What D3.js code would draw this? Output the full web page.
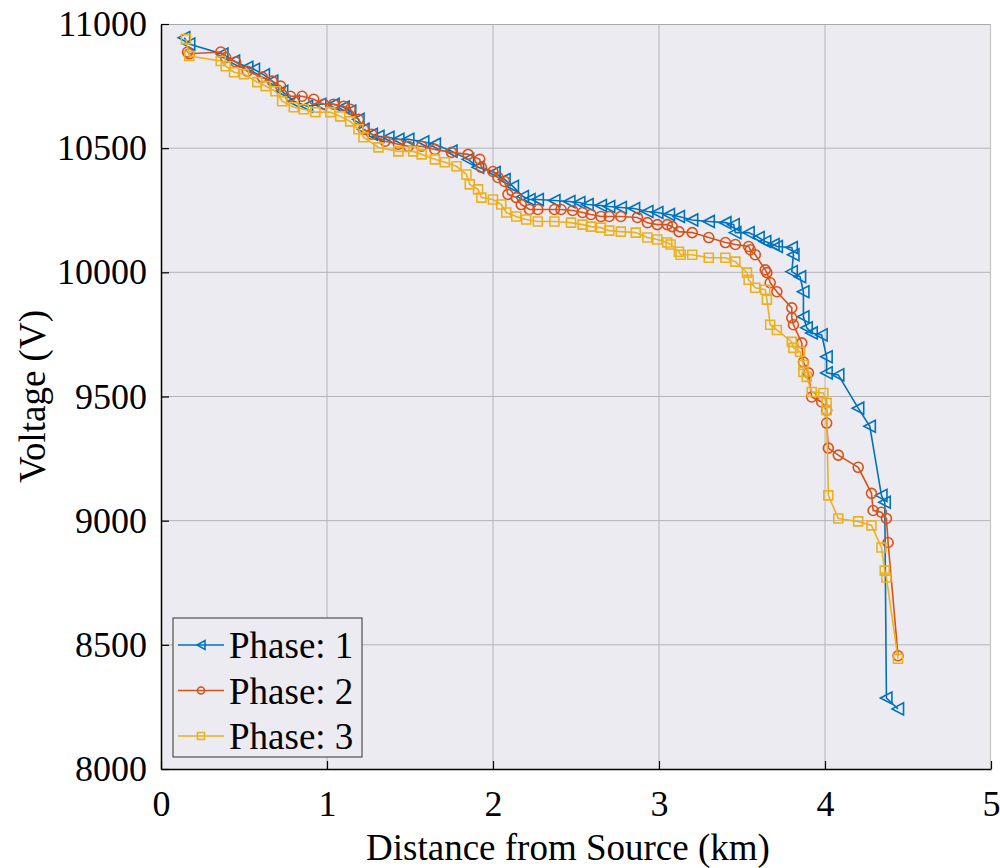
<!DOCTYPE html>
<html lang="en">
<head>
<meta charset="UTF-8">
<title>Voltage profile</title>
<style>
  body { margin: 0; background: #fff; }
  svg { display: block; font-family: "Liberation Serif", "Times New Roman", serif; }
  .grid line { stroke: #b4b4b8; stroke-width: 1; }
  .line { fill: none; stroke-width: 1.6px; }
  .marker { fill: none; stroke-width: 1.6px; }
</style>
</head>
<body>
<svg width="1000" height="868"></svg>
<script src="https://d3js.org/d3.v7.min.js"></script>
<script>
// distance from source (km) and voltage (V)
var phase1Dist = [0.14,0.17,0.37,0.44,0.52,0.56,0.62,0.67,0.73,0.80,0.88,0.96,1.04,1.10,1.14,1.19,1.22,1.27,1.31,1.37,1.43,1.49,1.58,1.65,1.75,1.85,1.91,2.01,2.07,2.12,2.18,2.22,2.27,2.37,2.46,2.52,2.57,2.65,2.70,2.77,2.85,2.93,2.99,3.06,3.12,3.20,3.30,3.40,3.45,3.46,3.54,3.60,3.64,3.69,3.71,3.80,3.81,3.80,3.85,3.87,3.87,3.89,3.92,3.98,4.01,4.01,4.08,4.20,4.27,4.34,4.36,4.37,4.44];
var phase1Volt = [10945,10919,10879,10851,10826,10818,10795,10770,10729,10689,10669,10677,10677,10665,10649,10616,10576,10556,10548,10544,10536,10536,10526,10516,10488,10455,10423,10402,10374,10346,10305,10293,10293,10289,10285,10281,10273,10269,10265,10261,10257,10245,10241,10233,10225,10211,10205,10200,10192,10160,10160,10140,10124,10112,10104,10100,10071,10003,9982,9922,9821,9777,9756,9748,9660,9595,9587,9453,9380,9102,9074,8286,8242];

var phase2Dist = [0.16,0.17,0.36,0.39,0.45,0.52,0.61,0.67,0.72,0.78,0.85,0.92,0.98,1.04,1.10,1.14,1.19,1.22,1.27,1.35,1.43,1.49,1.57,1.65,1.75,1.85,1.92,1.93,2.00,2.03,2.07,2.09,2.14,2.17,2.22,2.27,2.37,2.41,2.48,2.54,2.59,2.65,2.70,2.77,2.87,2.93,2.99,3.05,3.08,3.12,3.20,3.30,3.40,3.46,3.54,3.55,3.58,3.64,3.65,3.67,3.71,3.80,3.80,3.81,3.86,3.87,3.90,3.92,3.98,4.01,4.01,4.02,4.08,4.20,4.28,4.29,4.34,4.37,4.38,4.44];
var phase2Volt = [10887,10880,10887,10865,10847,10810,10786,10770,10750,10709,10709,10697,10677,10677,10669,10657,10616,10576,10556,10528,10516,10508,10508,10495,10483,10475,10455,10423,10406,10382,10366,10314,10301,10273,10253,10253,10253,10253,10249,10241,10233,10225,10225,10225,10221,10200,10192,10192,10184,10164,10160,10140,10120,10112,10104,10091,10071,10010,9999,9958,9922,9857,9817,9789,9716,9639,9595,9498,9478,9445,9393,9292,9264,9215,9110,9041,9034,9009,8912,8456];

var phase3Dist = [0.15,0.17,0.36,0.39,0.44,0.50,0.58,0.63,0.69,0.73,0.80,0.86,0.93,1.02,1.08,1.14,1.19,1.22,1.31,1.43,1.52,1.57,1.65,1.71,1.78,1.84,1.86,1.91,1.93,2.00,2.05,2.08,2.14,2.20,2.27,2.37,2.47,2.54,2.59,2.65,2.70,2.77,2.86,2.93,2.99,3.05,3.07,3.12,3.13,3.20,3.30,3.40,3.46,3.53,3.54,3.58,3.64,3.65,3.67,3.71,3.80,3.81,3.85,3.87,3.87,3.89,3.92,3.99,4.01,4.01,4.02,4.08,4.20,4.28,4.34,4.36,4.37,4.44];
var phase3Volt = [10939,10871,10851,10830,10806,10798,10766,10750,10729,10689,10665,10657,10645,10645,10628,10608,10576,10544,10503,10487,10487,10475,10455,10443,10427,10394,10354,10334,10301,10293,10273,10241,10225,10213,10205,10205,10200,10192,10184,10180,10168,10164,10160,10140,10132,10120,10112,10083,10071,10071,10059,10059,10043,9999,9970,9938,9930,9890,9789,9768,9720,9696,9680,9627,9599,9579,9518,9514,9474,9445,9102,9009,8997,8981,8892,8799,8771,8444];

var seriesNames = ["Phase: 1", "Phase: 2", "Phase: 3"];
var seriesColors = ["#0072BD", "#D95319", "#EDB120"];
var seriesMarkers = ["triangle", "circle", "square"];
var xTicks = [0, 1, 2, 3, 4, 5];
var yTicks = [8000, 8500, 9000, 9500, 10000, 10500, 11000];

var svg = d3.select("svg"),
    margin = {top: 24, right: 9, bottom: 99, left: 161},
    width = 1000 - margin.left - margin.right,
    height = 868 - margin.top - margin.bottom,
    g = svg.append("g").attr("transform", "translate(" + margin.left + "," + margin.top + ")");

var x = d3.scaleLinear().domain([0, 5]).range([0, width]),
    y = d3.scaleLinear().domain([8000, 11000]).range([height, 0]);

var series = [
  {name: seriesNames[0], color: seriesColors[0], marker: seriesMarkers[0], dist: phase1Dist, volt: phase1Volt},
  {name: seriesNames[1], color: seriesColors[1], marker: seriesMarkers[1], dist: phase2Dist, volt: phase2Volt},
  {name: seriesNames[2], color: seriesColors[2], marker: seriesMarkers[2], dist: phase3Dist, volt: phase3Volt}
];
series.forEach(function(s) {
  s.data = s.dist.map(function(d, i) { return {d: d, v: s.volt[i]}; });
});

// background
g.append("rect").attr("width", width).attr("height", height).attr("fill", "#ebebf1");

// grid
g.append("g").attr("class", "grid")
  .selectAll("line").data(xTicks.slice(1, -1)).enter().append("line")
  .attr("x1", function(d) { return x(d); }).attr("x2", function(d) { return x(d); })
  .attr("y1", 0).attr("y2", height);
g.append("g").attr("class", "grid")
  .selectAll("line").data(yTicks.slice(1, -1)).enter().append("line")
  .attr("y1", function(d) { return y(d); }).attr("y2", function(d) { return y(d); })
  .attr("x1", 0).attr("x2", width);

// top / right box edges
g.append("line").attr("x1", 0).attr("x2", width).attr("y1", 0.5).attr("y2", 0.5).attr("stroke", "#a8a8a8").attr("stroke-width", 1.2);
g.append("line").attr("x1", width - 0.5).attr("x2", width - 0.5).attr("y1", 0).attr("y2", height).attr("stroke", "#c4c4c4").attr("stroke-width", 1.2);

// axes
var xAxis = g.append("g")
  .attr("transform", "translate(0," + height + ")")
  .call(d3.axisBottom(x).tickValues(xTicks).tickFormat(d3.format("d")).tickSizeInner(-8).tickSizeOuter(0).tickPadding(21));
var yAxis = g.append("g")
  .call(d3.axisLeft(y).tickValues(yTicks).tickFormat(d3.format("d")).tickSizeInner(-8).tickSizeOuter(0).tickPadding(14));
[xAxis, yAxis].forEach(function(a) {
  a.select(".domain").attr("stroke", "#000").attr("stroke-width", 1.5);
  a.selectAll(".tick line").attr("stroke", "#000").attr("stroke-width", 1.2);
  a.selectAll(".tick text").attr("fill", "#000").attr("font-size", "36px")
    .attr("font-family", "Liberation Serif, Times New Roman, serif");
});

// axis labels
svg.append("text")
  .attr("x", margin.left + width / 2 - 8).attr("y", 860)
  .attr("text-anchor", "middle").attr("font-size", "37px").attr("fill", "#000")
  .text("Distance from Source (km)");
svg.append("text")
  .attr("transform", "translate(45," + (margin.top + height / 2) + ") rotate(-90)")
  .attr("text-anchor", "middle").attr("font-size", "37px").attr("fill", "#000")
  .text("Voltage (V)");

function markerPath(type) {
  if (type === "triangle") return "M-6,0L5.5,-6L5.5,6Z";
  if (type === "square") return "M-4.5,-4.5H4.5V4.5H-4.5Z";
  return null;
}

function drawMarker(sel, s) {
  if (s.marker === "circle") {
    sel.append("circle").attr("class", "marker").attr("r", 5).attr("stroke", s.color);
  } else {
    sel.append("path").attr("class", "marker").attr("d", markerPath(s.marker)).attr("stroke", s.color);
  }
}

var line = d3.line()
  .x(function(d) { return x(d.d); })
  .y(function(d) { return y(d.v); });

var plot = g.append("g");
series.forEach(function(s) {
  var sg = plot.append("g").attr("class", "signal");
  sg.append("path").attr("class", "line").attr("d", line(s.data)).attr("stroke", s.color);
  sg.selectAll(".pt").data(s.data).enter().append("g")
    .attr("class", "pt")
    .attr("transform", function(d) { return "translate(" + x(d.d) + "," + y(d.v) + ")"; })
    .each(function() { drawMarker(d3.select(this), s); });
});

// legend
var legend = svg.append("g").attr("transform", "translate(173,618)");
legend.append("rect").attr("width", 189).attr("height", 139)
  .attr("fill", "#ebebf1").attr("stroke", "#333").attr("stroke-width", 1);
series.forEach(function(s, i) {
  var row = legend.append("g").attr("transform", "translate(0," + (27 + i * 45.5) + ")");
  row.append("line").attr("x1", 5).attr("x2", 51).attr("stroke", s.color).attr("stroke-width", 1.6);
  var m = row.append("g").attr("transform", "translate(28,0)");
  if (s.marker === "circle") {
    m.append("circle").attr("class", "marker").attr("r", 3.5).attr("stroke", s.color);
  } else if (s.marker === "square") {
    m.append("path").attr("class", "marker").attr("d", "M-3.5,-3.5H3.5V3.5H-3.5Z").attr("stroke", s.color);
  } else {
    m.append("path").attr("class", "marker").attr("d", "M-4,0L4,-4.5L4,4.5Z").attr("stroke", s.color);
  }
  row.append("text").attr("x", 56).attr("y", 13).attr("font-size", "37px").attr("fill", "#000").text(s.name);
});
</script>
</body>
</html>
